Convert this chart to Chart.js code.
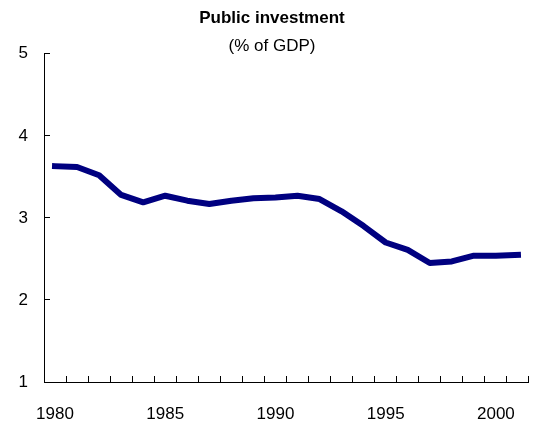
<!DOCTYPE html>
<html>
<head>
<meta charset="utf-8">
<title>Public investment</title>
<script src="https://cdn.jsdelivr.net/npm/chart.js@4/dist/chart.umd.min.js"></script>
<style>
  html, body { margin: 0; padding: 0; background: #fff; }
  #chart { display: block; }
</style>
</head>
<body>
<canvas id="chart" width="546" height="427"></canvas>
<script>
var years = [1980, 1981, 1982, 1983, 1984, 1985, 1986, 1987, 1988, 1989, 1990,
             1991, 1992, 1993, 1994, 1995, 1996, 1997, 1998, 1999, 2000, 2001];
var investment = [3.63, 3.62, 3.52, 3.28, 3.19, 3.27, 3.21, 3.17, 3.21, 3.24, 3.25,
                  3.27, 3.23, 3.08, 2.90, 2.70, 2.61, 2.45, 2.47, 2.54, 2.54, 2.55];
var yTicks = [1, 2, 3, 4, 5];

var fontFamily = "'Liberation Sans', Arial, sans-serif";

var ctx = document.getElementById('chart').getContext('2d');
var chart = new Chart(ctx, {
    type: 'line',
    data: {
        labels: years,
        datasets: [{
            label: 'Public investment',
            data: investment,
            borderColor: '#000080',
            backgroundColor: '#000080',
            borderWidth: 6,
            borderCapStyle: 'square',
            borderJoinStyle: 'round',
            pointRadius: 0,
            tension: 0,
            fill: false
        }]
    },
    options: {
        responsive: false,
        animation: false,
        layout: {
            padding: { left: 0, right: 2, top: 0, bottom: 0 }
        },
        scales: {
            x: {
                type: 'category',
                offset: true,
                border: { display: true, color: '#000', width: 1 },
                grid: {
                    offset: true,
                    drawOnChartArea: false,
                    drawTicks: true,
                    tickLength: -6,
                    color: '#000'
                },
                ticks: {
                    autoSkip: false,
                    maxRotation: 0,
                    padding: 28,
                    color: '#000',
                    font: { family: fontFamily, size: 17 },
                    callback: function (value) {
                        var year = this.getLabelForValue(value);
                        return year % 5 === 0 ? String(year) : '';
                    }
                },
                afterFit: function (scale) { scale.height = 45; }
            },
            y: {
                min: 1,
                max: 5,
                border: { display: true, color: '#000', width: 1 },
                grid: {
                    drawOnChartArea: false,
                    drawTicks: true,
                    tickLength: -6,
                    color: '#000'
                },
                afterBuildTicks: function (scale) {
                    scale.ticks = yTicks.map(function (v) { return { value: v }; });
                },
                ticks: {
                    padding: 22,
                    color: '#000',
                    font: { family: fontFamily, size: 17 }
                },
                afterFit: function (scale) { scale.width = 44; }
            }
        },
        plugins: {
            legend: { display: false },
            tooltip: { enabled: false },
            title: {
                display: true,
                text: 'Public investment',
                color: '#000',
                font: { family: fontFamily, size: 17, weight: 'bold' },
                padding: { top: 8, bottom: 4 }
            },
            subtitle: {
                display: true,
                text: '(% of GDP)',
                color: '#000',
                font: { family: fontFamily, size: 17 },
                padding: { top: 4, bottom: -3 }
            }
        }
    }
});
</script>
</body>
</html>
